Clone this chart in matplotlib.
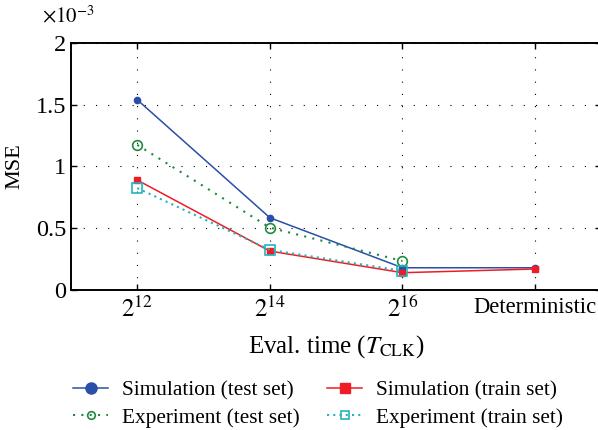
import numpy as np
import matplotlib.pyplot as plt

plt.rcParams['font.family'] = ['Liberation Serif', 'DejaVu Serif']
plt.rcParams['mathtext.fontset'] = 'stix'

# MSE values (x 1e-3) per evaluation time
eval_labels = ['$2^{12}$', '$2^{14}$', '$2^{16}$', 'Deterministic']
sim_test = [1.54, 0.585, 0.18, 0.18]
sim_train = [0.89, 0.315, 0.14, 0.17]
exp_test = [1.175, 0.505, 0.235]
exp_train = [0.825, 0.325, 0.155]

x = np.arange(1, len(eval_labels) + 1)

fig = plt.figure(figsize=(5.98, 4.30), dpi=100)
ax = fig.add_axes([0.1187, 0.3256, 0.887, 0.5744])

ax.plot(x, np.array(sim_test) * 1e-3, '-o', color='#2a4fa8', lw=1.1, ms=4.5,
        label='Simulation (test set)')
ax.plot(x[:3], np.array(exp_test) * 1e-3, color='#1f8a3f', ls=(0, (1, 3)),
        marker='o', lw=1.5, ms=7, mfc='none', mew=1.2,
        label='Experiment (test set)')
ax.plot(x, np.array(sim_train) * 1e-3, '-s', color='#ee1c25', lw=1.1, ms=4,
        label='Simulation (train set)')
ax.plot(x[:3], np.array(exp_train) * 1e-3, color='#22b5bd', ls=(0, (1, 2)),
        marker='s', lw=1.5, ms=7, mfc='none', mew=1.2,
        label='Experiment (train set)')

ax.set_xlim(0.5, 4.5)
ax.set_ylim(0, 2e-3)
ax.set_xticks(x)
ax.set_xticklabels(eval_labels, fontsize=18)
# the last label is long and sits at the right edge
ax.get_xticklabels()[-1].set_fontsize(16.3)
ax.set_yticks([0, 0.5e-3, 1e-3, 1.5e-3, 2e-3])
ax.set_yticklabels(['0', '0.5', '1', '1.5', '2'], fontsize=17.5)
ax.text(-0.055, 1.065, r'$\times10^{-3}$', transform=ax.transAxes, fontsize=15,
        ha='left', va='bottom')

ax.grid(True, color='black', linestyle=(0, (1, 10)), lw=0.8)
ax.tick_params(direction='in', top=True, right=True, length=4, width=1)
ax.tick_params(axis='x', pad=5)
for s in ax.spines.values():
    s.set_linewidth(1.4)

ax.set_ylabel('MSE', fontsize=16, labelpad=8)
ax.set_xlabel(r'Eval. time ($T_{\mathrm{CLK}}$)', fontsize=18, labelpad=8)

leg = ax.legend(ncol=2, frameon=False, loc='upper center',
                bbox_to_anchor=(0.466, -0.29), fontsize=15.3,
                handlelength=1.65, handletextpad=0.65, columnspacing=1.3,
                labelspacing=0.35)
for hnd, size in zip(leg.legend_handles, [8, 5.5, 6.5, 6]):
    hnd.set_markersize(size)

fig.savefig('out.png', dpi=100)
